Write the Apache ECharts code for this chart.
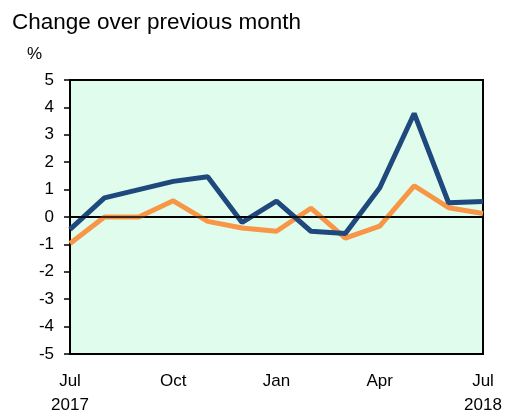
<!DOCTYPE html>
<html>
<head>
<meta charset="utf-8">
<script src="https://cdn.jsdelivr.net/npm/echarts@6/dist/echarts.min.js"></script>
<style>
  html, body { margin: 0; padding: 0; background: #fff; }
  #chart { width: 510px; height: 417px; }
</style>
</head>
<body>
<div id="chart"></div>
<script>
// months Jul 2017 .. Jul 2018
var months = ['Jul 2017', 'Aug', 'Sep', 'Oct', 'Nov', 'Dec', 'Jan', 'Feb', 'Mar', 'Apr', 'May', 'Jun', 'Jul 2018'];
var tickLabels = ['Jul\n2017', '', '', 'Oct', '', '', 'Jan', '', '', 'Apr', '', '', 'Jul\n2018'];
var blueSeries = [-0.45, 0.7, 1.0, 1.3, 1.47, -0.2, 0.58, -0.52, -0.6, 1.07, 3.78, 0.52, 0.57];
var orangeSeries = [-0.97, 0.0, 0.0, 0.59, -0.16, -0.4, -0.52, 0.32, -0.77, -0.33, 1.14, 0.34, 0.13];
var yTicks = [-5, -4, -3, -2, -1, 0, 1, 2, 3, 4, 5];

var chart = echarts.init(document.getElementById('chart'));
var font = 'Liberation Sans, Arial, sans-serif';

chart.setOption({
    animation: false,
    title: {
        text: 'Change over previous month',
        left: 7,
        top: 6,
        textStyle: { fontFamily: font, fontSize: 22.5, fontWeight: 'normal', color: '#000' }
    },
    graphic: [{
        type: 'text',
        left: 27,
        top: 46,
        style: { text: '%', font: '17px ' + font, fill: '#000' }
    }],
    grid: {
        left: 70, right: 27, top: 80, bottom: 60,
        show: true,
        backgroundColor: '#e0fcec',
        borderColor: '#000',
        borderWidth: 2
    },
    xAxis: {
        type: 'category',
        data: months,
        boundaryGap: false,
        axisLine: { lineStyle: { color: '#000', width: 2 } },
        axisTick: { show: false },
        axisLabel: {
            interval: 0,
            margin: 15,
            lineHeight: 24,
            fontFamily: font,
            fontSize: 17,
            color: '#000',
            formatter: function (v, i) { return tickLabels[i]; }
        },
        splitLine: { show: false }
    },
    yAxis: {
        type: 'value',
        min: yTicks[0],
        max: yTicks[yTicks.length - 1],
        interval: 1,
        axisLine: { show: true, lineStyle: { color: '#000', width: 2 } },
        axisTick: { show: true, inside: false, length: 6, lineStyle: { color: '#000', width: 1.5 } },
        axisLabel: { margin: 16, fontFamily: font, fontSize: 17, color: '#000' },
        splitLine: { show: false }
    },
    series: [{
        name: 'blue',
        type: 'line',
        data: blueSeries,
        symbol: 'none',
        lineStyle: { color: '#1f497d', width: 5 },
        z: 3,
        markLine: {
            silent: true,
            symbol: 'none',
            label: { show: false },
            lineStyle: { color: '#000', width: 1.5, type: 'solid' },
            data: [{ yAxis: 0 }]
        }
    }, {
        name: 'orange',
        type: 'line',
        data: orangeSeries,
        symbol: 'none',
        lineStyle: { color: '#f79646', width: 5 },
        z: 2
    }]
});
</script>
</body>
</html>
